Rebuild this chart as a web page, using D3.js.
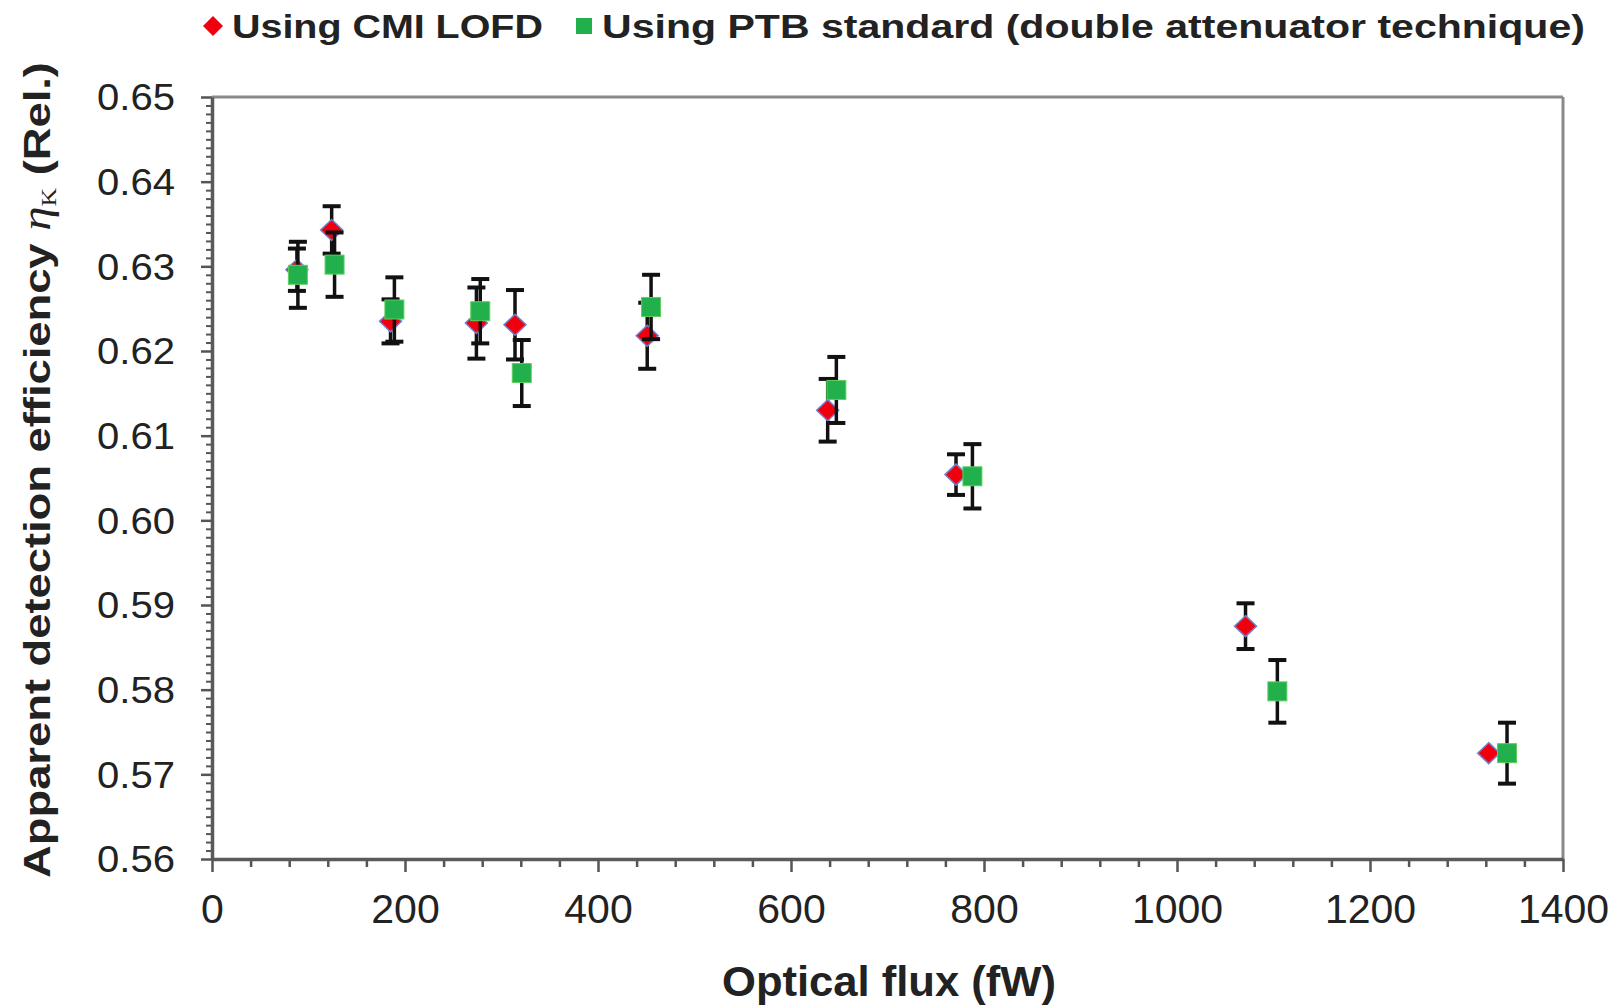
<!DOCTYPE html>
<html>
<head>
<meta charset="utf-8">
<script src="https://cdn.jsdelivr.net/npm/d3@7/dist/d3.min.js"></script>
<style>
  html, body { margin: 0; padding: 0; background: #fff; }
  svg { display: block; }
  text { font-family: "Liberation Sans", Arial, sans-serif; fill: #222; }
</style>
</head>
<body>
<svg id="chart" width="1623" height="1008"></svg>
<script>
// ---- Data ----
const seriesNames = ["Using CMI LOFD", "Using PTB standard (double attenuator technique)"];

const cmiFlux = [88, 124, 185, 274, 314, 451, 638, 771, 1071, 1323];
const cmiEff  = [0.6296, 0.6343, 0.6235, 0.6233, 0.6231, 0.6218, 0.6130, 0.6054, 0.5875, 0.5725];
const cmiErr  = [0.0025, 0.0028, 0.0026, 0.0042, 0.0041, 0.0039, 0.0037, 0.0024, 0.0027, 0];

const ptbFlux = [89, 127, 189, 278, 321, 455, 647, 788, 1104, 1342];
const ptbEff  = [0.6290, 0.6302, 0.6249, 0.6247, 0.6174, 0.6252, 0.6154, 0.6052, 0.5798, 0.5725];
const ptbErr  = [0.0039, 0.0038, 0.0038, 0.0038, 0.0039, 0.0038, 0.0039, 0.0038, 0.0037, 0.0036];

const xTicks = [0, 200, 400, 600, 800, 1000, 1200, 1400];
const yTicks = [0.56, 0.57, 0.58, 0.59, 0.60, 0.61, 0.62, 0.63, 0.64, 0.65];
const yTickLabels = ["0.56", "0.57", "0.58", "0.59", "0.60", "0.61", "0.62", "0.63", "0.64", "0.65"];

// ---- Layout ----
const svg = d3.select("#chart");
const L = 212, R = 1563, T = 97, B = 859;
const x = d3.scaleLinear().domain([0, 1400]).range([L, R]);
const y = d3.scaleLinear().domain([0.56, 0.65]).range([B, T]);

const RED = "#f0000f", GREEN = "#22b04c";

// plot frame (top / right)
svg.append("line").attr("x1", L).attr("x2", R).attr("y1", T).attr("y2", T)
  .attr("stroke", "#8a8a8a").attr("stroke-width", 3);
svg.append("line").attr("x1", R).attr("x2", R).attr("y1", T).attr("y2", B)
  .attr("stroke", "#8a8a8a").attr("stroke-width", 3);

// minor ticks
const xMinor = d3.range(0, 1400.001, 40).filter(v => v % 200 !== 0);
const yMinor = d3.range(0, 91).map(i => 0.56 + i * 0.001).filter((v, i) => i % 10 !== 0);

svg.append("g").attr("transform", `translate(0,${B})`)
  .call(d3.axisBottom(x).tickValues(xMinor).tickSize(8).tickFormat(""))
  .call(g => g.select(".domain").remove())
  .call(g => g.selectAll("line").attr("stroke", "#555").attr("stroke-width", 2.5));
svg.append("g").attr("transform", `translate(${L},0)`)
  .call(d3.axisLeft(y).tickValues(yMinor).tickSize(6).tickFormat(""))
  .call(g => g.select(".domain").remove())
  .call(g => g.selectAll("line").attr("stroke", "#555").attr("stroke-width", 2));

// major axes
const xAxis = svg.append("g").attr("transform", `translate(0,${B})`)
  .call(d3.axisBottom(x).tickValues(xTicks).tickSize(13).tickSizeOuter(0).tickPadding(22).tickFormat(d3.format("d")));
xAxis.select(".domain").attr("stroke", "#5a5a5a").attr("stroke-width", 3.5);
xAxis.selectAll("line").attr("stroke", "#555").attr("stroke-width", 2.5);
xAxis.selectAll("text").attr("font-size", 41).attr("fill", "#222")
  .attr("font-family", "Liberation Sans, Arial, sans-serif").attr("dy", "0.71em");

const yAxis = svg.append("g").attr("transform", `translate(${L},0)`)
  .call(d3.axisLeft(y).tickValues(yTicks).tickSize(11).tickSizeOuter(0).tickPadding(26)
    .tickFormat((d, i) => yTickLabels[i]));
yAxis.select(".domain").attr("stroke", "#5a5a5a").attr("stroke-width", 3.5);
yAxis.selectAll("line").attr("stroke", "#555").attr("stroke-width", 2.5);
yAxis.selectAll("text").attr("font-size", 37).attr("fill", "#222")
  .attr("font-family", "Liberation Sans, Arial, sans-serif").attr("dy", "0.35em")
  .attr("text-anchor", "end")
  .each(function () {
    const t = d3.select(this);
    const w = this.getComputedTextLength();
    const k = 78 / w;
    const xx = +t.attr("x");
    t.attr("x", 0).attr("transform", `translate(${xx},0) scale(${k},1)`);
  });

// ---- Error bars + markers ----
function drawSeries(flux, eff, err, kind) {
  const pts = flux.map((f, i) => ({ f, v: eff[i], e: err[i] }));
  const g = svg.append("g");
  const eb = g.selectAll(".eb").data(pts.filter(d => d.e > 0)).join("g");
  eb.append("line").attr("x1", d => x(d.f)).attr("x2", d => x(d.f))
    .attr("y1", d => y(d.v - d.e)).attr("y2", d => y(d.v + d.e))
    .attr("stroke", "#111").attr("stroke-width", 3.5);
  eb.append("line").attr("x1", d => x(d.f) - 9).attr("x2", d => x(d.f) + 9)
    .attr("y1", d => y(d.v + d.e)).attr("y2", d => y(d.v + d.e))
    .attr("stroke", "#111").attr("stroke-width", 4);
  eb.append("line").attr("x1", d => x(d.f) - 9).attr("x2", d => x(d.f) + 9)
    .attr("y1", d => y(d.v - d.e)).attr("y2", d => y(d.v - d.e))
    .attr("stroke", "#111").attr("stroke-width", 4);

  if (kind === "diamond") {
    g.selectAll(".m").data(pts).join("path")
      .attr("d", d => { const cx = x(d.f), cy = y(d.v);
        return `M${cx},${cy - 10.5}L${cx + 11},${cy}L${cx},${cy + 10.5}L${cx - 11},${cy}Z`; })
      .attr("fill", RED).attr("stroke", "#6f80c8").attr("stroke-width", 1.5);
  } else {
    g.selectAll(".m").data(pts).join("rect")
      .attr("x", d => x(d.f) - 9.5).attr("y", d => y(d.v) - 9.5)
      .attr("width", 19).attr("height", 19)
      .attr("fill", GREEN).attr("stroke", "#5fcf5f").attr("stroke-width", 1);
  }
}
drawSeries(cmiFlux, cmiEff, cmiErr, "diamond");
drawSeries(ptbFlux, ptbEff, ptbErr, "square");

// ---- Text helpers ----
function fitText(parent, str, x0, y0, target, size, weight) {
  const t = parent.append("text").text(str)
    .attr("font-size", size).attr("font-weight", weight).attr("fill", "#111");
  const w = t.node().getComputedTextLength();
  t.attr("transform", `translate(${x0},${y0}) scale(${target / w},1)`);
  return t;
}

// ---- Legend ----
svg.append("path").attr("d", "M213,16L223,26L213,36L203,26Z").attr("fill", RED);
fitText(svg, seriesNames[0], 232, 38, 311, 34, "bold");
svg.append("rect").attr("x", 576).attr("y", 18).attr("width", 16).attr("height", 16).attr("fill", GREEN);
fitText(svg, seriesNames[1], 602, 38, 983, 34, "bold");

// ---- Axis titles ----
fitText(svg, "Optical flux (fW)", 722, 996, 334, 42, "bold");

const yl = svg.append("text").attr("font-size", 37).attr("font-weight", "bold").attr("fill", "#111")
  .attr("text-anchor", "middle");
yl.append("tspan").text("Apparent detection efficiency ");
yl.append("tspan").text("η").attr("font-family", "Liberation Serif, serif")
  .attr("font-style", "italic").attr("font-weight", "normal").attr("font-size", 40);
yl.append("tspan").text("K").attr("font-family", "Liberation Serif, serif")
  .attr("font-weight", "normal").attr("font-size", 21).attr("dy", 6);
yl.append("tspan").text(" (Rel.)").attr("dy", -6);
const ylw = yl.node().getComputedTextLength();
yl.attr("transform", `translate(50,470) rotate(-90) scale(${816 / ylw},1)`);
</script>
</body>
</html>
